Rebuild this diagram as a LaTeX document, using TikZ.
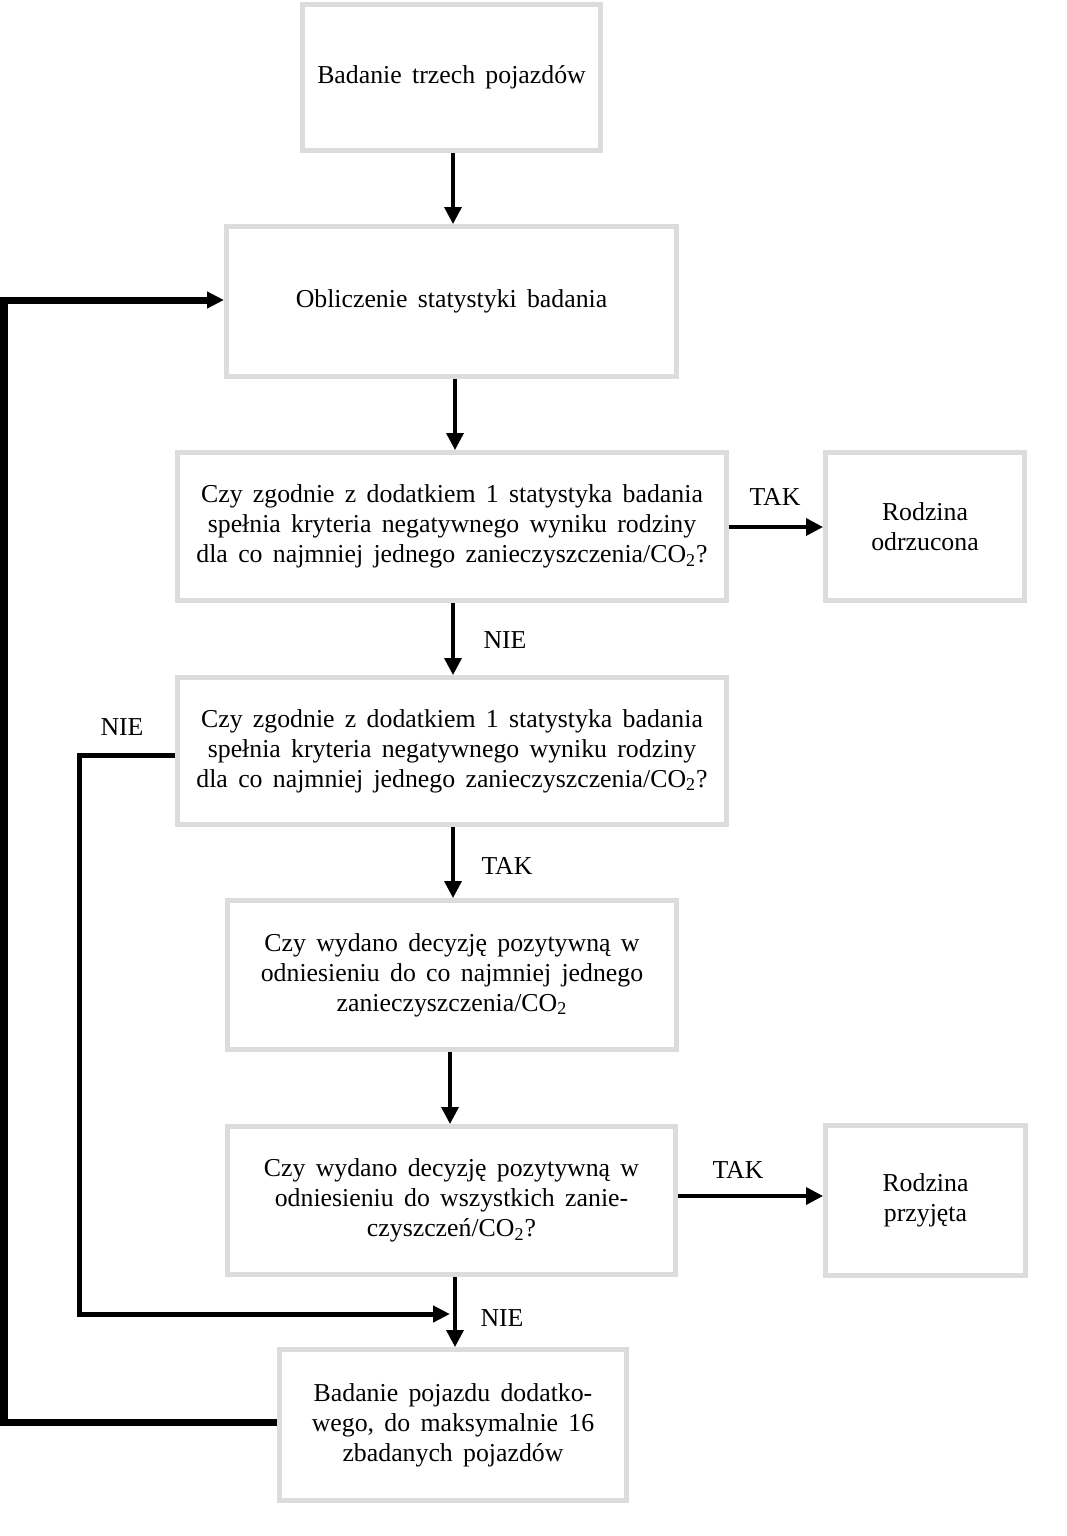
\documentclass[tikz,border=0pt]{standalone}
\usepackage{fontspec}
\setmainfont{Liberation Serif}[WordSpace=1.6]
\usetikzlibrary{arrows.meta}
\definecolor{boxgray}{HTML}{DCDCDC}
\tikzset{
  box/.style={draw=boxgray, line width=2.5pt, align=center, inner sep=0pt,
    font=\fontsize{12.9}{15}\selectfont},
  lbl/.style={font=\fontsize{12.9}{15}\selectfont, inner sep=0pt},
  thinarrow/.style={line width=1.75pt, -{Triangle[length=8.5pt,width=8.5pt]}},
  loopmidarrow/.style={line width=2.5pt, -{Triangle[length=8.5pt,width=8pt]}},
  loopthick/.style={line width=3.5pt, -{Triangle[length=8.5pt,width=8pt]}},
}
\begin{document}
\begin{tikzpicture}[x=0.5pt,y=-0.5pt]
\useasboundingbox (0,0) rectangle (1066,1536);
\node[box, minimum width=149pt, minimum height=73pt] (b1) at (451.5,77.5) {Badanie trzech pojazdów};
\node[box, minimum width=225pt, minimum height=75pt] (b2) at (451.5,301.5) {Obliczenie statystyki badania};
\node[box, minimum width=274.5pt, minimum height=74pt] (b3) at (452,526.5) {Czy zgodnie z dodatkiem 1 statystyka badania\\spełnia kryteria negatywnego wyniku rodziny\\dla co najmniej jednego zanieczyszczenia/CO\textsubscript{2}?};
\node[box, minimum width=99.5pt, minimum height=74pt] (r1) at (925,526.5) {Rodzina\\odrzucona};
\node[box, minimum width=274.5pt, minimum height=73.5pt] (b4) at (452,751) {Czy zgodnie z dodatkiem 1 statystyka badania\\spełnia kryteria negatywnego wyniku rodziny\\dla co najmniej jednego zanieczyszczenia/CO\textsubscript{2}?};
\node[box, minimum width=224.5pt, minimum height=74.5pt] (b5) at (452,975) {Czy wydano decyzję pozytywną w\\odniesieniu do co najmniej jednego\\zanieczyszczenia/CO\textsubscript{2}};
\node[box, minimum width=224pt, minimum height=74pt] (b6) at (451.5,1200.5) {Czy wydano decyzję pozytywną w\\odniesieniu do wszystkich zanie-\\czyszczeń/CO\textsubscript{2}?};
\node[box, minimum width=100pt, minimum height=75pt] (r2) at (925.5,1200.5) {Rodzina\\przyjęta};
\node[box, minimum width=173.5pt, minimum height=75.5pt] (b7) at (453,1425) {Badanie pojazdu dodatko-\\wego, do maksymalnie 16\\zbadanych pojazdów};

\node[lbl] (tak1) at (775,497) {TAK};
\node[lbl] (nie1) at (505,640) {NIE};
\node[lbl] (tak2) at (507,866) {TAK};
\node[lbl] (tak3) at (738,1170) {TAK};
\node[lbl] (nie2) at (502,1318) {NIE};
\node[lbl] (nie3) at (122,727) {NIE};

\coordinate (m) at (450,1314);

\draw[thinarrow] (453,153) -- (453,224);
\draw[thinarrow] (455,379) -- (455,450);
\draw[thinarrow] (453,603) -- (453,675);
\draw[thinarrow] (453,827) -- (453,898);
\draw[thinarrow] (450,1052) -- (450,1124);
\draw[thinarrow] (455,1277) -- (455,1347);
\draw[thinarrow] (b3.east |- 0,527) -- (r1.west |- 0,527);
\draw[thinarrow] (b6.east |- 0,1196) -- (r2.west |- 0,1196);

\draw[loopmidarrow] (b4.west |- 0,755) -- (79,755) -- (79,1314) -- (m);
\draw[loopthick] (b7.west |- 0,1422) -- (4,1422) -- (4,300) -- (b2.west |- 0,300);
\end{tikzpicture}
\end{document}
